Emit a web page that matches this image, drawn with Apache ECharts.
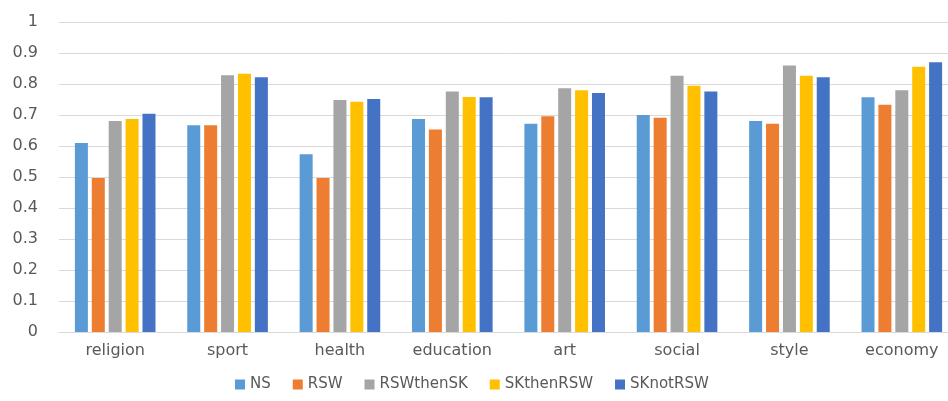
<!DOCTYPE html>
<html>
<head>
<meta charset="utf-8">
<script src="https://cdn.jsdelivr.net/npm/echarts@6/dist/echarts.min.js"></script>
<style>
html,body{margin:0;padding:0;background:#fff;overflow:hidden;width:948px;height:401px;}
#chart{width:960px;height:401px;}
</style>
</head>
<body>
<div id="chart"></div>
<script>
const categories = ['religion','sport','health','education','art','social','style','economy'];
const NS        = [0.610, 0.667, 0.573, 0.687, 0.672, 0.700, 0.681, 0.757];
const RSW       = [0.497, 0.667, 0.497, 0.653, 0.696, 0.691, 0.672, 0.733];
const RSWthenSK = [0.681, 0.828, 0.748, 0.776, 0.786, 0.827, 0.860, 0.780];
const SKthenRSW = [0.687, 0.833, 0.743, 0.758, 0.780, 0.794, 0.827, 0.856];
const SKnotRSW  = [0.704, 0.822, 0.752, 0.757, 0.771, 0.776, 0.822, 0.870];
const seriesNames = ['NS','RSW','RSWthenSK','SKthenRSW','SKnotRSW'];
const seriesData = [NS, RSW, RSWthenSK, SKthenRSW, SKnotRSW];
const colors = ['#5B9BD5','#ED7D31','#A5A5A5','#FFC000','#4472C4'];
const FONT = 'DejaVu Sans';

const chart = echarts.init(document.getElementById('chart'));
chart.setOption({
  animation:false,
  color: colors,
  textStyle:{fontFamily:FONT},
  grid:{left:59, width:899, top:22, height:310},
  legend:{
    data: seriesNames,
    top: 372,
    left: 230,
    icon:'rect',
    itemWidth:10, itemHeight:10, itemGap:22,
    textStyle:{color:'#595959', fontSize:15, fontFamily:FONT}
  },
  xAxis:{
    type:'category',
    data: categories,
    axisLine:{show:true, lineStyle:{color:'#d9d9d9'}},
    axisTick:{show:false},
    axisLabel:{color:'#595959', fontSize:16, margin:11, fontFamily:FONT}
  },
  yAxis:{
    type:'value',
    min:0, max:1, interval:0.1,
    axisLine:{show:false},
    axisTick:{show:false},
    splitLine:{lineStyle:{color:'#d9d9d9'}},
    axisLabel:{color:'#595959', fontSize:16, margin:21, fontFamily:FONT,
      formatter: v => String(Math.round(v*10)/10)}
  },
  series: seriesNames.map((n,i)=>({
    name:n, type:'bar', data: seriesData[i],
    barWidth:13, barGap:'30%', barCategoryGap:'27%'
  }))
});
</script>
</body>
</html>
